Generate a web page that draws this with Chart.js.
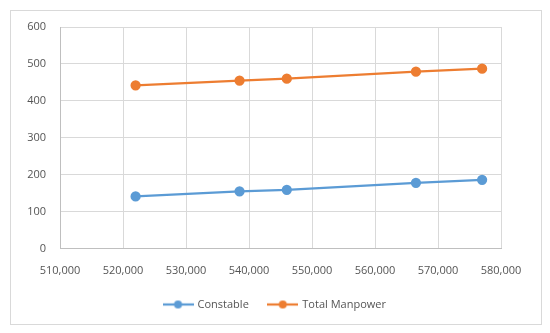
<!DOCTYPE html>
<html lang="en">
<head>
    <meta charset="UTF-8">
    <title>Constable vs Total Manpower</title>
    <script src="https://cdn.jsdelivr.net/npm/chart.js@4.4.1/dist/chart.umd.min.js"></script>
    <style>
        body { margin: 0; background: #fff; }
        #wrap { width: 550px; height: 333px; }
    </style>
</head>
<body>
    <div id="wrap"><canvas id="chart" width="550" height="333"></canvas></div>

    <script>
        const population = [522000, 538500, 546000, 566500, 577000];
        const constable = [141, 155, 159, 178, 186];
        const totalManpower = [442, 455, 460, 479, 487];
        const seriesNames = ["Constable", "Total Manpower"];
        const seriesColors = ["#5B9BD5", "#ED7D31"];

        const gray = "#555555";
        const font = { family: "'Open Sans', sans-serif", size: 11 };

        // little line-with-dot marker for the legend
        function legendMarker(color) {
            const c = document.createElement("canvas");
            c.width = 31; c.height = 10;
            const g = c.getContext("2d");
            g.strokeStyle = color; g.lineWidth = 2.25;
            g.beginPath(); g.moveTo(0, 5); g.lineTo(31, 5); g.stroke();
            g.fillStyle = color;
            g.beginPath(); g.arc(15.5, 5, 4, 0, Math.PI * 2); g.fill();
            return c;
        }

        function toPoints(ys) {
            return population.map((x, i) => ({ x: x, y: ys[i] }));
        }

        const frame = {
            id: "frame",
            beforeDraw(chart) {
                const c = chart.ctx;
                c.save();
                c.fillStyle = "#fff";
                c.fillRect(0, 0, chart.width, chart.height);
                c.strokeStyle = "#d9d9d9";
                c.lineWidth = 1;
                c.strokeRect(10.5, 10.5, 531, 314);
                c.restore();
            }
        };

        const ctx = document.getElementById("chart").getContext("2d");
        new Chart(ctx, {
            type: "scatter",
            data: {
                datasets: [constable, totalManpower].map((ys, i) => ({
                    label: seriesNames[i],
                    data: toPoints(ys),
                    showLine: true,
                    borderColor: seriesColors[i],
                    backgroundColor: seriesColors[i],
                    borderWidth: 2.25,
                    pointStyle: "circle",
                    pointRadius: 4,
                    pointHoverRadius: 4
                }))
            },
            options: {
                responsive: false,
                animation: false,
                layout: { padding: { left: 26, right: 26, top: 27, bottom: 13 } },
                plugins: {
                    tooltip: { enabled: false },
                    legend: {
                        position: "bottom",
                        labels: {
                            color: gray,
                            font: font,
                            usePointStyle: true,
                            pointStyleWidth: 28,
                            padding: 20,
                            generateLabels(chart) {
                                return chart.data.datasets.map((ds, i) => ({
                                    text: ds.label,
                                    fontColor: gray,
                                    pointStyle: legendMarker(seriesColors[i]),
                                    datasetIndex: i,
                                    hidden: false,
                                    lineWidth: 0
                                }));
                            }
                        }
                    }
                },
                scales: {
                    x: {
                        type: "linear",
                        min: 510000,
                        max: 580000,
                        afterFit(s) { s.height = 30.5; },
                        ticks: {
                            stepSize: 10000,
                            color: gray,
                            font: font,
                            padding: 16,
                            maxRotation: 0,
                            callback: v => v.toLocaleString("en-US")
                        },
                        grid: { color: "#d9d9d9", drawTicks: false },
                        border: { color: "#bfbfbf" }
                    },
                    y: {
                        min: 0,
                        max: 600,
                        afterFit(s) { s.width = 34; },
                        ticks: { stepSize: 100, color: gray, font: font, padding: 14 },
                        grid: { color: "#d9d9d9", drawTicks: false },
                        border: { color: "#bfbfbf" }
                    },
                    // empty spacer on the right so the legend stays centred on the page
                    spacer: {
                        type: "linear",
                        position: "right",
                        afterFit(s) { s.width = 23; },
                        ticks: { display: false },
                        grid: { display: false },
                        border: { display: false }
                    }
                }
            },
            plugins: [frame]
        });
    </script>
</body>
</html>
